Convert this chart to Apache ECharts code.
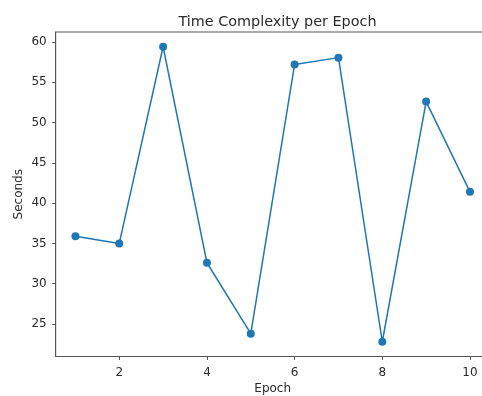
<!DOCTYPE html>
<html>
<head>
<meta charset="utf-8">
<script src="https://cdn.jsdelivr.net/npm/echarts@6/dist/echarts.min.js"></script>
<style>
  html, body { margin: 0; padding: 0; background: #fff; width: 482px; height: 396px; overflow: hidden; }
  /* the plot area runs past the right edge of the window, as in the original figure */
  #chart { width: 490px; height: 396px; }
</style>
</head>
<body>
<div id="chart"></div>
<script>
// epochs and measured time per epoch (seconds)
var epochs = [1, 2, 3, 4, 5, 6, 7, 8, 9, 10]
var seconds = [35.9, 35.0, 59.4, 32.6, 23.8, 57.2, 58.05, 22.8, 52.6, 41.4]
var xTicks = [2, 4, 6, 8, 10]
var yTicks = [25, 30, 35, 40, 45, 50, 55, 60]

var chart = echarts.init(document.getElementById('chart'), null, { renderer: 'canvas' })

var points = epochs.map(function (e, i) { return [e, seconds[i]] })
var font = 'DejaVu Sans'
var ink = '#2b2b2b'
var spine = '#555'

chart.setOption({
  backgroundColor: '#fff',
  animation: false,
  title: {
    text: 'Time Complexity per Epoch',
    left: 272.5,
    textAlign: 'center',
    top: 10,
    textStyle: { fontFamily: font, fontSize: 14.4, fontWeight: 'normal', color: ink }
  },
  grid: {
    left: 55.7,
    right: 0.3,
    top: 32,
    bottom: 39.5,
    show: true,
    borderColor: spine,
    borderWidth: 1,
    containLabel: false,
    outerBoundsMode: 'none'
  },
  xAxis: {
    type: 'value',
    min: 0.55,
    max: 10.45,
    name: 'Epoch',
    nameLocation: 'middle',
    nameGap: 26,
    nameMoveOverlap: false,
    nameTextStyle: { fontFamily: font, fontSize: 12, color: ink },
    splitLine: { show: false },
    axisLine: { show: true, lineStyle: { color: spine, width: 1 } },
    axisTick: { show: true, customValues: xTicks, length: 3.5, lineStyle: { color: spine } },
    axisLabel: { customValues: xTicks, margin: 10, fontFamily: font, fontSize: 12, color: ink }
  },
  yAxis: {
    type: 'value',
    min: 20.97,
    max: 61.23,
    name: 'Seconds',
    nameLocation: 'middle',
    nameGap: 31,
    nameMoveOverlap: false,
    nameTextStyle: { fontFamily: font, fontSize: 12, color: ink },
    splitLine: { show: false },
    axisLine: { show: true, lineStyle: { color: spine, width: 1 } },
    axisTick: { show: true, customValues: yTicks, length: 3.5, lineStyle: { color: spine } },
    axisLabel: { customValues: yTicks, margin: 9, fontFamily: font, fontSize: 12, color: ink }
  },
  series: [
    {
      type: 'line',
      data: points,
      symbol: 'circle',
      symbolSize: 8,
      lineStyle: { color: '#1f77b4', width: 1.5 },
      itemStyle: { color: '#1f77b4' }
    }
  ]
})
</script>
</body>
</html>
